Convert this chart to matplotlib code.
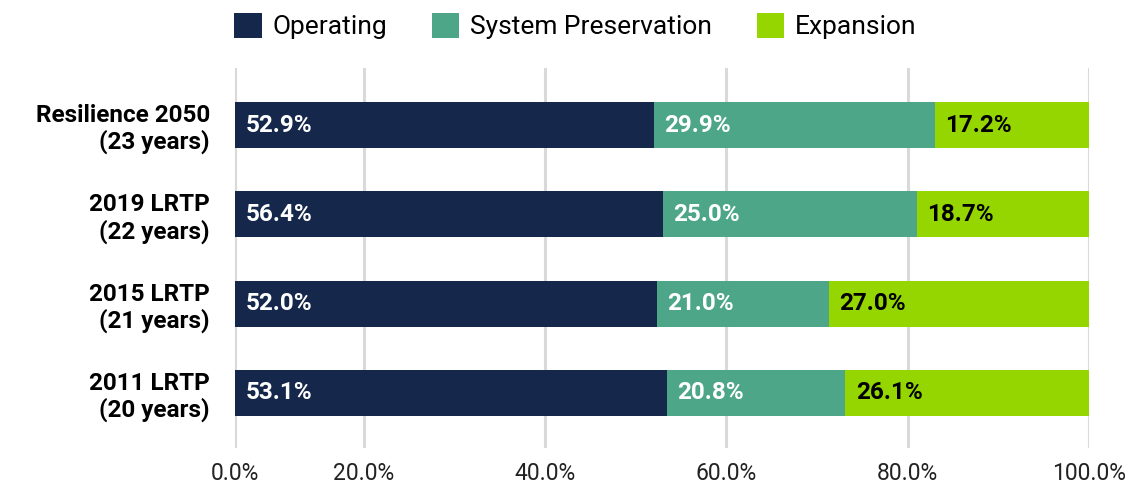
import matplotlib.pyplot as plt
import numpy as np

plt.rcParams['font.family'] = ['Roboto', 'DejaVu Sans']

planos = ['Resilience 2050\n(23 years)', '2019 LRTP\n(22 years)',
          '2015 LRTP\n(21 years)', '2011 LRTP\n(20 years)']
series = ['Operating', 'System Preservation', 'Expansion']
# bar lengths as drawn (share of bar, %)
operating = [49.1, 50.1, 49.4, 50.6]
preservation = [32.9, 29.8, 20.2, 20.9]
expansion = [18.1, 20.4, 30.4, 28.5]
# printed labels
lab_operating = ['52.9%', '56.4%', '52.0%', '53.1%']
lab_preservation = ['29.9%', '25.0%', '21.0%', '20.8%']
lab_expansion = ['17.2%', '18.7%', '27.0%', '26.1%']
tick_labels = ['0.0%', '20.0%', '40.0%', '60.0%', '80.0%', '100.0%']

cores = ['#15284b', '#4da687', '#95d600']
cor_txt = ['white', 'white', 'black']

fig = plt.figure(figsize=(11.46, 4.86), dpi=100)
ax = fig.add_axes([0.205, 0.078, 0.745, 0.782])

y = np.arange(len(planos))
esq = np.zeros(len(planos))
for vals, labs, nome, c, ct in zip([operating, preservation, expansion],
                                   [lab_operating, lab_preservation, lab_expansion],
                                   series, cores, cor_txt):
    ax.barh(y, vals, left=esq, height=0.515, color=c, label=nome, zorder=2)
    for yi, x0, t in zip(y, esq, labs):
        ax.annotate(t, (x0, yi), xytext=(7.5, 0), textcoords='offset points',
                    ha='left', va='center', color=ct, fontsize=17.5,
                    fontweight='bold', zorder=3)
    esq = esq + np.array(vals)

ax.set_xlim(0, 100)
ax.set_ylim(3.62, -0.64)
# gridline positions as they appear in the original
ax.set_xticks([0, 15.1, 36.3, 57.5, 78.8, 100])
ax.set_xticklabels(tick_labels, fontsize=16.5, color='#222222')
ax.set_yticks(y)
ax.set_yticklabels(planos, fontsize=17.5, fontweight='semibold', linespacing=1.15)
ax.tick_params(length=0, axis='y', pad=18)
ax.tick_params(length=0, axis='x', pad=10)
ax.grid(axis='x', color='#d9d9d9', linewidth=2.2, zorder=0)
ax.set_axisbelow(True)
for s in ax.spines.values():
    s.set_visible(False)

fig.legend(loc='center', bbox_to_anchor=(0.502, 0.946), ncol=3, frameon=False,
           fontsize=19, handlelength=1.05, handleheight=1.05,
           handletextpad=0.4, columnspacing=1.7)

fig.savefig('out.png', dpi=100)
